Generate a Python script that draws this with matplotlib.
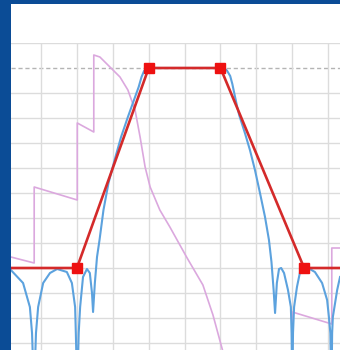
import numpy as np
import matplotlib
matplotlib.use('Agg')
import matplotlib.pyplot as plt

# frequency offset (grid units) and attenuation in dB
mask_f = [-4.84, -3.0, -1.0, 1.0, 3.33, 4.33]
mask_db = [-80, -80, 0, 0, -80, -80]

resp_f = [-4.84, -4.50, -4.31, -4.25, -4.195, -4.14, -4.08, -3.94, -3.75, -3.55,
          -3.28, -3.14, -3.05, -3.03, -2.99, -2.95, -2.91, -2.83, -2.72, -2.64,
          -2.58, -2.55, -2.50, -2.44, -2.37, -2.26, -2.12, -1.95, -1.77, -1.58,
          -1.41, -1.28, -1.20, -1.13, -1.06, -0.99, 0.0, 1.04, 1.10, 1.18, 1.27,
          1.33, 1.40, 1.46, 1.52, 1.60, 1.68, 1.82, 1.96, 2.10, 2.24, 2.35, 2.42,
          2.48, 2.52, 2.57, 2.63, 2.69, 2.77, 2.88, 2.96, 2.98, 3.00, 3.02, 3.05,
          3.13, 3.21, 3.33, 3.44, 3.63, 3.83, 3.97, 4.02, 4.06, 4.09, 4.11,
          4.13, 4.25, 4.33]
resp_db = [-80.8, -86, -95.6, -106, -130, -106, -95.6, -86, -82, -80.4,
           -81.6, -86, -95.6, -106, -130, -106, -95.6, -83.6, -80.4, -82,
           -90, -97.6, -86, -75.6, -68.8, -56.8, -46, -36.8, -27.6, -19.6,
           -12.8, -7.6, -3.6, -1.2, -0.2, 0, 0, 0, -0.1, -1.0, -3.2,
           -6.4, -11.2, -15.2, -18.8, -22.4, -26, -32.8, -40.8, -50, -59.6, -68.8, -77.6,
           -88.8, -98, -86, -80.4, -80, -82, -88.8, -95.6, -106, -130, -106, -95.6,
           -87.6, -82, -80.4, -80, -81.6, -86, -92.8, -99.6, -106, -130, -106,
           -99.6, -88.8, -83.6]

delay_f = [-4.84, -4.19, -4.19, -2.99, -2.99, -2.53, -2.53, -2.36, -2.08, -1.80,
           -1.58, -1.38, -1.24, -1.10, -0.96, -0.69, -0.41, 0.07, 0.51, 0.79,
           1.07, 1.54, 3.00, 3.00, 4.10, 4.10, 4.33]
delay_db = [-75.6, -78, -47.6, -52.8, -22, -25.6, 5.2, 4.4, 0.4, -3.6,
            -8.8, -16.8, -27.6, -39.6, -47.6, -56.8, -63.6, -76, -86.8, -98.8,
            -113.6, -133, -133, -97.6, -102.4, -72, -72]

fig = plt.figure(figsize=(3.4, 3.5), dpi=100, facecolor='#0b4c96')

# white panel behind the plot
bg = fig.add_axes([11 / 340, 0, 329 / 340, 346 / 350])
bg.set_facecolor('white')
bg.set_xticks([])
bg.set_yticks([])
for s in bg.spines.values():
    s.set_visible(False)

ax = fig.add_axes([11 / 340, 0, 329 / 340, 307 / 350])
ax.set_facecolor('none')
ax.set_xlim(-4.836, 4.329)
ax.set_ylim(-112.8, 10)
ax.set_xticks(np.arange(-4, 5, 1))
ax.set_yticks([t for t in range(-110, 11, 10) if t != 0])
ax.tick_params(length=0, labelbottom=False, labelleft=False)
ax.grid(True, color='#dcdcdc', lw=1.0)
for s in ax.spines.values():
    s.set_visible(False)

ax.axhline(0, color='#b4b4b4', lw=1.0, ls=(0, (3, 2)), zorder=1)

ax.plot(delay_f, delay_db, color='#dba8de', lw=1.2, zorder=2)
ax.plot(resp_f, resp_db, color='#5ca2de', lw=1.5, zorder=3)
ax.plot(mask_f, mask_db, color='#d42a2a', lw=1.9, zorder=4,
        marker='s', markersize=6.5, markevery=[1, 2, 3, 4],
        markerfacecolor='#ee1111', markeredgecolor='#ee1111')

fig.savefig('out.png', dpi=100, facecolor=fig.get_facecolor())
